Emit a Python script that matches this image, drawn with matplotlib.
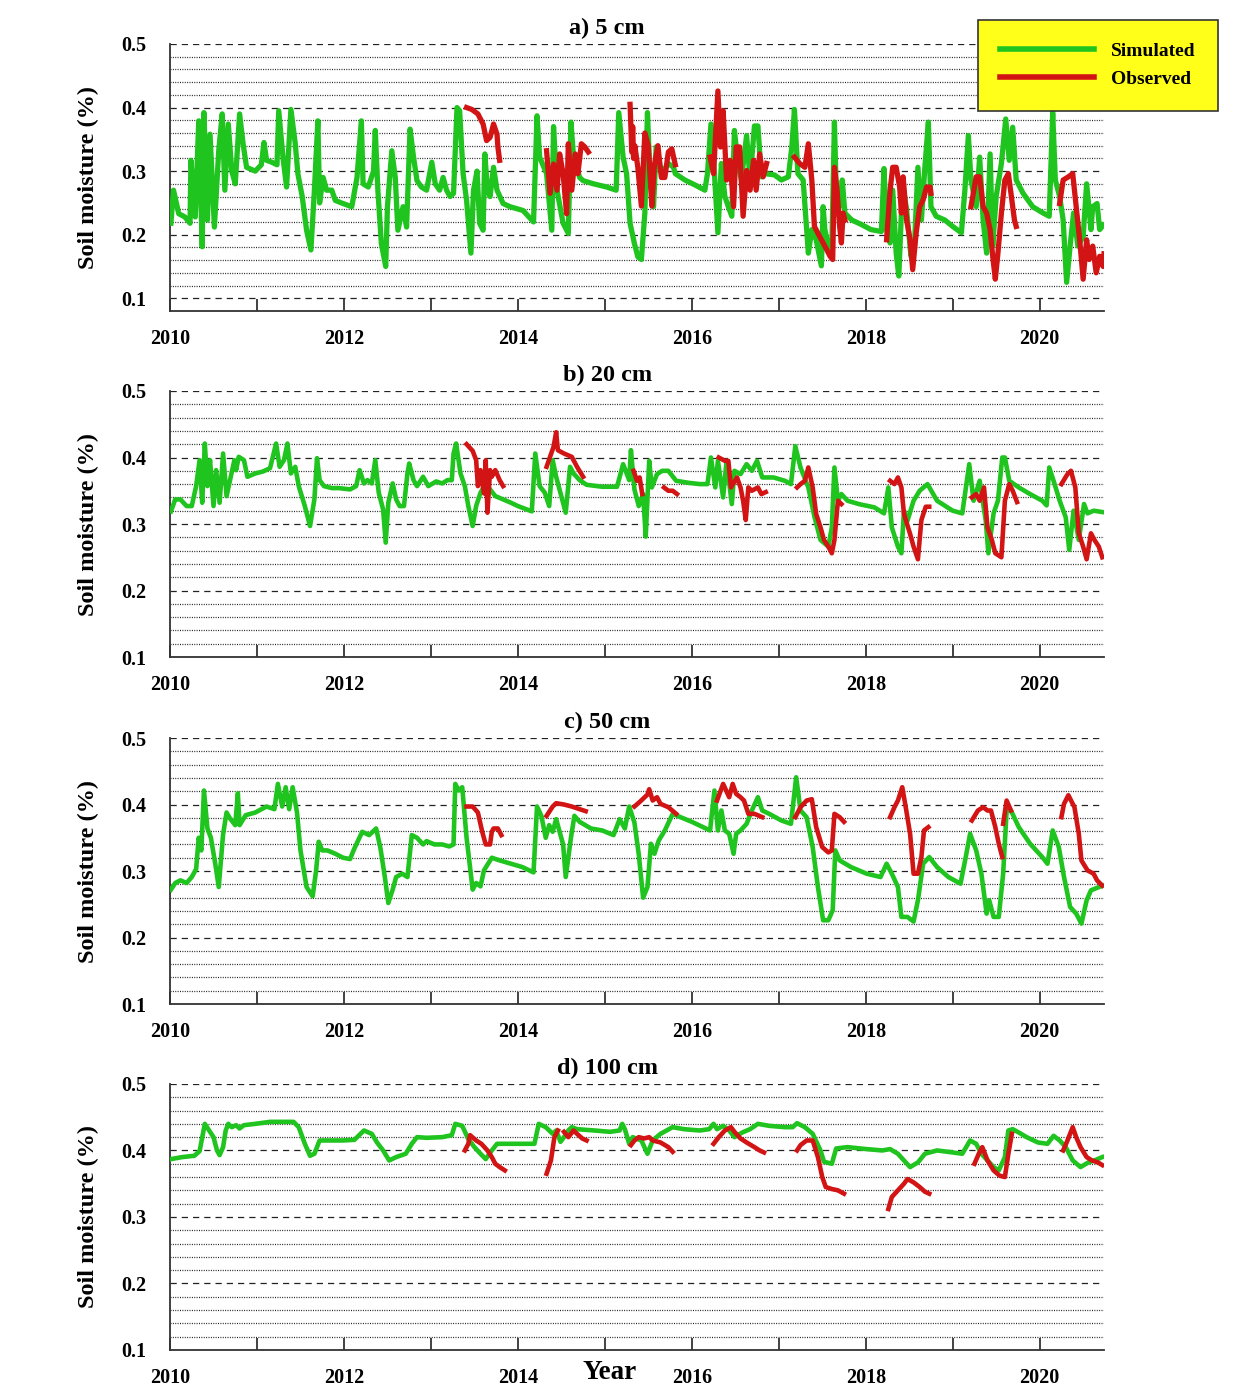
import numpy as np
import matplotlib
matplotlib.use("Agg")
import matplotlib.pyplot as plt
from matplotlib.lines import Line2D
from matplotlib.ticker import FixedLocator

nan = np.nan

# ---- 5 cm ----
sim_a_t = [2010.01, 2010.04, 2010.10, 2010.17, 2010.23, 2010.24, 2010.29, 2010.33, 2010.37, 2010.39,
           2010.43, 2010.46, 2010.51, 2010.56, 2010.60, 2010.63, 2010.67, 2010.71, 2010.75, 2010.80,
           2010.84, 2010.88, 2010.98, 2011.05, 2011.08, 2011.11, 2011.17, 2011.23, 2011.25, 2011.30,
           2011.34, 2011.39, 2011.44, 2011.47, 2011.52, 2011.57, 2011.62, 2011.66, 2011.70, 2011.72,
           2011.76, 2011.80, 2011.86, 2011.90, 2011.97, 2012.09, 2012.15, 2012.20, 2012.22, 2012.28,
           2012.34, 2012.36, 2012.39, 2012.43, 2012.48, 2012.50, 2012.55, 2012.59, 2012.62, 2012.68,
           2012.72, 2012.76, 2012.80, 2012.84, 2012.89, 2012.95, 2013.01, 2013.05, 2013.10, 2013.14,
           2013.18, 2013.22, 2013.26, 2013.30, 2013.33, 2013.37, 2013.41, 2013.46, 2013.49, 2013.53,
           2013.56, 2013.60, 2013.62, 2013.65, 2013.68, 2013.72, 2013.76, 2013.83, 2013.91, 2014.06,
           2014.18, 2014.22, 2014.25, 2014.33, 2014.39, 2014.41, 2014.45, 2014.52, 2014.58, 2014.61,
           2014.64, 2014.71, 2014.75, 2014.87, 2015.02, 2015.13, 2015.16, 2015.21, 2015.25, 2015.29,
           2015.34, 2015.38, 2015.42, 2015.46, 2015.49, 2015.52, 2015.56, 2015.59, 2015.65, 2015.73,
           2015.79, 2015.81, 2015.92, 2016.04, 2016.15, 2016.18, 2016.22, 2016.26, 2016.30, 2016.34,
           2016.38, 2016.42, 2016.46, 2016.49, 2016.53, 2016.57, 2016.63, 2016.67, 2016.72, 2016.76,
           2016.80, 2016.84, 2016.95, 2017.03, 2017.11, 2017.15, 2017.18, 2017.22, 2017.28, 2017.34,
           2017.38, 2017.43, 2017.49, 2017.51, 2017.53, 2017.57, 2017.61, 2017.64, 2017.66, 2017.70,
           2017.73, 2017.76, 2017.84, 2017.95, 2018.06, 2018.18, 2018.21, 2018.24, 2018.28, 2018.31,
           2018.35, 2018.38, 2018.41, 2018.43, 2018.47, 2018.52, 2018.56, 2018.60, 2018.64, 2018.68,
           2018.72, 2018.75, 2018.81, 2018.91, 2019.00, 2019.10, 2019.14, 2019.18, 2019.21, 2019.27,
           2019.31, 2019.35, 2019.39, 2019.43, 2019.46, 2019.50, 2019.56, 2019.61, 2019.65, 2019.69,
           2019.73, 2019.81, 2019.92, 2020.04, 2020.11, 2020.15, 2020.18, 2020.23, 2020.27, 2020.31,
           2020.35, 2020.39, 2020.44, 2020.50, 2020.54, 2020.59, 2020.61, 2020.66, 2020.69, 2020.73]
sim_a_v = [0.218, 0.270, 0.233, 0.228, 0.218, 0.317, 0.228, 0.379, 0.181, 0.392,
           0.223, 0.358, 0.212, 0.332, 0.390, 0.270, 0.374, 0.300, 0.280, 0.390,
           0.343, 0.306, 0.300, 0.310, 0.345, 0.317, 0.314, 0.310, 0.395, 0.320,
           0.275, 0.397, 0.343, 0.296, 0.260, 0.207, 0.176, 0.270, 0.379, 0.250,
           0.290, 0.270, 0.270, 0.254, 0.250, 0.244, 0.290, 0.379, 0.280, 0.275,
           0.300, 0.364, 0.270, 0.186, 0.150, 0.244, 0.332, 0.290, 0.207, 0.244,
           0.212, 0.366, 0.322, 0.285, 0.275, 0.270, 0.314, 0.280, 0.270, 0.290,
           0.270, 0.260, 0.265, 0.400, 0.395, 0.296, 0.254, 0.171, 0.270, 0.300,
           0.218, 0.207, 0.327, 0.270, 0.260, 0.306, 0.270, 0.249, 0.244, 0.238,
           0.220, 0.387, 0.322, 0.296, 0.207, 0.370, 0.270, 0.218, 0.202, 0.377,
           0.322, 0.290, 0.285, 0.280, 0.275, 0.270, 0.392, 0.322, 0.296, 0.218,
           0.186, 0.165, 0.161, 0.234, 0.392, 0.286, 0.244, 0.338, 0.296, 0.312,
           0.306, 0.296, 0.286, 0.278, 0.270, 0.296, 0.374, 0.296, 0.203, 0.312,
           0.260, 0.244, 0.229, 0.364, 0.312, 0.286, 0.356, 0.286, 0.371, 0.371,
           0.291, 0.296, 0.294, 0.286, 0.291, 0.338, 0.397, 0.296, 0.286, 0.171,
           0.208, 0.192, 0.151, 0.244, 0.208, 0.182, 0.177, 0.377, 0.270, 0.244,
           0.286, 0.234, 0.223, 0.216, 0.208, 0.205, 0.304, 0.208, 0.187, 0.270,
           0.171, 0.135, 0.234, 0.275, 0.239, 0.166, 0.182, 0.306, 0.223, 0.306,
           0.377, 0.244, 0.229, 0.223, 0.213, 0.203, 0.270, 0.356, 0.286, 0.244,
           0.322, 0.223, 0.171, 0.327, 0.182, 0.260, 0.312, 0.382, 0.317, 0.369,
           0.286, 0.265, 0.244, 0.234, 0.229, 0.392, 0.286, 0.260, 0.223, 0.125,
           0.182, 0.234, 0.182, 0.197, 0.280, 0.208, 0.244, 0.249, 0.208, 0.215]

obs_a_t = [2013.41, 2013.47, 2013.54, 2013.60, 2013.64, 2013.68, 2013.72, 2013.76, 2013.77, 2013.79, nan,
           2014.33, 2014.37, 2014.41, 2014.45, 2014.48, 2014.52, 2014.56, 2014.58, 2014.62, 2014.66,
           2014.69, 2014.73, 2014.77, 2014.81, nan,
           2015.29, 2015.31, 2015.32, 2015.33, 2015.345, 2015.38, 2015.42, 2015.46, 2015.50, 2015.54,
           2015.57, 2015.61, 2015.65, 2015.69, 2015.73, 2015.77, 2015.81, nan,
           2016.21, 2016.25, 2016.30, 2016.33, 2016.36, 2016.40, 2016.44, 2016.48, 2016.51, 2016.55,
           2016.59, 2016.63, 2016.67, 2016.71, 2016.74, 2016.78, 2016.82, 2016.86, nan,
           2017.18, 2017.24, 2017.30, 2017.34, 2017.38, 2017.41, 2017.47, 2017.53, 2017.59, 2017.62,
           2017.64, 2017.67, 2017.70, 2017.72, 2017.74, 2017.76, nan,
           2018.24, 2018.28, 2018.31, 2018.35, 2018.39, 2018.41, 2018.43, 2018.47, 2018.51, 2018.54,
           2018.58, 2018.62, 2018.66, 2018.70, 2018.74, 2018.75, nan,
           2019.21, 2019.27, 2019.31, 2019.35, 2019.39, 2019.43, 2019.46, 2019.49, 2019.52, 2019.56,
           2019.60, 2019.64, 2019.67, 2019.71, 2019.73, nan,
           2020.23, 2020.27, 2020.33, 2020.38, 2020.42, 2020.46, 2020.50, 2020.54, 2020.57, 2020.61,
           2020.65, 2020.69, 2020.73, 2020.74]
obs_a_v = [0.400, 0.397, 0.390, 0.374, 0.348, 0.353, 0.374, 0.358, 0.338, 0.317, nan,
           0.332, 0.265, 0.311, 0.270, 0.327, 0.296, 0.233, 0.343, 0.270, 0.327,
           0.296, 0.343, 0.338, 0.330, nan,
           0.405, 0.330, 0.370, 0.320, 0.340, 0.305, 0.245, 0.360, 0.340, 0.245,
           0.310, 0.340, 0.290, 0.290, 0.330, 0.335, 0.310, nan,
           0.322, 0.296, 0.426, 0.338, 0.395, 0.286, 0.317, 0.244, 0.338, 0.338,
           0.229, 0.301, 0.270, 0.317, 0.270, 0.327, 0.291, 0.312, nan,
           0.322, 0.312, 0.306, 0.343, 0.286, 0.213, 0.197, 0.182, 0.166, 0.161,
           0.306, 0.270, 0.213, 0.187, 0.234, 0.223, nan,
           0.192, 0.270, 0.306, 0.306, 0.275, 0.234, 0.291, 0.223, 0.192, 0.145,
           0.203, 0.244, 0.255, 0.275, 0.275, 0.265, nan,
           0.244, 0.291, 0.291, 0.244, 0.234, 0.208, 0.166, 0.130, 0.171, 0.234,
           0.286, 0.296, 0.265, 0.223, 0.213, nan,
           0.249, 0.286, 0.291, 0.296, 0.244, 0.192, 0.130, 0.192, 0.161, 0.182,
           0.140, 0.166, 0.150, 0.170]

# ---- 20 cm ----
sim_b_t = [2010.01, 2010.06, 2010.12, 2010.19, 2010.25, 2010.30, 2010.34, 2010.37, 2010.40, 2010.43,
           2010.46, 2010.50, 2010.53, 2010.57, 2010.61, 2010.65, 2010.69, 2010.74, 2010.76, 2010.79,
           2010.85, 2010.89, 2010.98, 2011.07, 2011.15, 2011.22, 2011.26, 2011.31, 2011.35, 2011.39,
           2011.44, 2011.48, 2011.55, 2011.61, 2011.66, 2011.69, 2011.72, 2011.77, 2011.86, 2011.94,
           2012.07, 2012.14, 2012.18, 2012.23, 2012.27, 2012.32, 2012.36, 2012.40, 2012.45, 2012.48,
           2012.51, 2012.56, 2012.60, 2012.64, 2012.69, 2012.73, 2012.75, 2012.80, 2012.84, 2012.91,
           2012.97, 2013.06, 2013.13, 2013.19, 2013.24, 2013.26, 2013.29, 2013.34, 2013.39, 2013.43,
           2013.48, 2013.52, 2013.57, 2013.63, 2013.68, 2013.74, 2013.83, 2013.92, 2014.00, 2014.16,
           2014.20, 2014.25, 2014.31, 2014.36, 2014.40, 2014.44, 2014.51, 2014.55, 2014.60, 2014.64,
           2014.71, 2014.79, 2014.97, 2015.14, 2015.21, 2015.28, 2015.30, 2015.34, 2015.39, 2015.44,
           2015.47, 2015.51, 2015.54, 2015.60, 2015.66, 2015.73, 2015.82, 2015.96, 2016.09, 2016.18,
           2016.22, 2016.27, 2016.30, 2016.36, 2016.40, 2016.46, 2016.49, 2016.56, 2016.63, 2016.69,
           2016.75, 2016.81, 2016.94, 2017.07, 2017.14, 2017.19, 2017.25, 2017.34, 2017.41, 2017.48,
           2017.57, 2017.61, 2017.64, 2017.68, 2017.72, 2017.79, 2017.92, 2018.10, 2018.21, 2018.26,
           2018.30, 2018.37, 2018.41, 2018.44, 2018.48, 2018.55, 2018.62, 2018.71, 2018.82, 2019.00,
           2019.11, 2019.19, 2019.24, 2019.31, 2019.38, 2019.41, 2019.47, 2019.52, 2019.57, 2019.60,
           2019.65, 2019.76, 2019.89, 2020.03, 2020.08, 2020.11, 2020.16, 2020.23, 2020.30, 2020.34,
           2020.39, 2020.45, 2020.51, 2020.55, 2020.62, 2020.72]
sim_b_v = [0.319, 0.337, 0.337, 0.327, 0.327, 0.357, 0.396, 0.332, 0.421, 0.357,
           0.396, 0.327, 0.381, 0.332, 0.406, 0.342, 0.366, 0.396, 0.381, 0.401,
           0.396, 0.371, 0.376, 0.379, 0.384, 0.421, 0.386, 0.396, 0.421, 0.376,
           0.386, 0.357, 0.327, 0.297, 0.337, 0.399, 0.366, 0.357, 0.354, 0.354,
           0.352, 0.357, 0.381, 0.361, 0.366, 0.361, 0.396, 0.347, 0.322, 0.272,
           0.332, 0.361, 0.337, 0.327, 0.327, 0.376, 0.391, 0.366, 0.357, 0.371,
           0.357, 0.364, 0.361, 0.366, 0.366, 0.406, 0.421, 0.376, 0.357, 0.327,
           0.297, 0.327, 0.347, 0.361, 0.352, 0.342, 0.337, 0.332, 0.327, 0.319,
           0.406, 0.357, 0.347, 0.327, 0.396, 0.371, 0.337, 0.317, 0.386, 0.376,
           0.366, 0.359, 0.356, 0.356, 0.390, 0.366, 0.411, 0.352, 0.327, 0.345,
           0.281, 0.395, 0.355, 0.375, 0.380, 0.380, 0.365, 0.362, 0.360, 0.360,
           0.400, 0.355, 0.395, 0.340, 0.395, 0.330, 0.380, 0.375, 0.390, 0.380,
           0.395, 0.370, 0.370, 0.365, 0.360, 0.417, 0.385, 0.355, 0.311, 0.276,
           0.266, 0.295, 0.385, 0.335, 0.345, 0.335, 0.330, 0.325, 0.316, 0.355,
           0.295, 0.266, 0.256, 0.320, 0.305, 0.335, 0.350, 0.360, 0.335, 0.320,
           0.316, 0.390, 0.335, 0.365, 0.305, 0.256, 0.316, 0.335, 0.400, 0.400,
           0.365, 0.355, 0.345, 0.335, 0.328, 0.385, 0.365, 0.335, 0.310, 0.261,
           0.320, 0.276, 0.330, 0.316, 0.320, 0.318]

obs_b_t = [2013.41, 2013.48, 2013.52, 2013.54, 2013.57, 2013.61, 2013.63, 2013.65, 2013.68, 2013.70,
           2013.74, 2013.79, 2013.83, nan,
           2014.33, 2014.37, 2014.41, 2014.44, 2014.46, 2014.53, 2014.62, 2014.68, 2014.75, nan,
           2015.33, 2015.37, 2015.40, 2015.43, nan,
           2015.68, 2015.73, 2015.78, 2015.83, nan,
           2016.31, 2016.38, 2016.42, 2016.45, 2016.52, 2016.56, 2016.59, 2016.62, 2016.65, 2016.69,
           2016.76, 2016.80, 2016.85, nan,
           2017.21, 2017.25, 2017.30, 2017.34, 2017.39, 2017.43, 2017.48, 2017.52, 2017.57, 2017.61,
           2017.64, 2017.68, 2017.72, nan,
           2018.28, 2018.33, 2018.37, 2018.41, 2018.44, 2018.51, 2018.55, 2018.60, 2018.64, 2018.69,
           2018.73, nan,
           2019.22, 2019.27, 2019.31, 2019.36, 2019.40, 2019.45, 2019.49, 2019.56, 2019.60, 2019.65,
           2019.69, 2019.74, nan,
           2020.25, 2020.32, 2020.36, 2020.41, 2020.45, 2020.50, 2020.54, 2020.59, 2020.63, 2020.68,
           2020.72]
obs_b_v = [0.420, 0.410, 0.396, 0.357, 0.381, 0.346, 0.396, 0.317, 0.381, 0.371,
           0.381, 0.366, 0.357, nan,
           0.386, 0.401, 0.416, 0.438, 0.411, 0.406, 0.401, 0.386, 0.371, nan,
           0.380, 0.365, 0.370, 0.345, nan,
           0.355, 0.350, 0.350, 0.345, nan,
           0.400, 0.395, 0.395, 0.355, 0.370, 0.355, 0.335, 0.306, 0.355, 0.350,
           0.355, 0.345, 0.348, nan,
           0.355, 0.360, 0.365, 0.385, 0.355, 0.315, 0.295, 0.276, 0.266, 0.256,
           0.276, 0.335, 0.330, nan,
           0.365, 0.360, 0.370, 0.355, 0.315, 0.285, 0.266, 0.247, 0.306, 0.326,
           0.326, nan,
           0.340, 0.345, 0.335, 0.355, 0.295, 0.276, 0.256, 0.250, 0.335, 0.360,
           0.350, 0.333, nan,
           0.360, 0.375, 0.380, 0.355, 0.286, 0.266, 0.247, 0.286, 0.276, 0.266,
           0.250]

# ---- 50 cm ----
sim_c_t = [2010.01, 2010.06, 2010.12, 2010.19, 2010.25, 2010.30, 2010.33, 2010.36, 2010.39, 2010.43,
           2010.47, 2010.52, 2010.56, 2010.61, 2010.65, 2010.69, 2010.75, 2010.78, 2010.80, 2010.87,
           2010.98, 2011.11, 2011.20, 2011.24, 2011.29, 2011.33, 2011.37, 2011.41, 2011.46, 2011.50,
           2011.57, 2011.64, 2011.68, 2011.71, 2011.75, 2011.81, 2011.90, 2011.99, 2012.07, 2012.12,
           2012.21, 2012.29, 2012.37, 2012.42, 2012.47, 2012.51, 2012.56, 2012.60, 2012.67, 2012.73,
           2012.78, 2012.84, 2012.91, 2012.95, 2013.04, 2013.13, 2013.21, 2013.26, 2013.28, 2013.32,
           2013.36, 2013.41, 2013.48, 2013.52, 2013.57, 2013.61, 2013.70, 2013.79, 2013.92, 2014.05,
           2014.18, 2014.22, 2014.27, 2014.32, 2014.36, 2014.40, 2014.44, 2014.49, 2014.52, 2014.55,
           2014.61, 2014.65, 2014.71, 2014.84, 2014.97, 2015.10, 2015.17, 2015.23, 2015.28, 2015.34,
           2015.39, 2015.44, 2015.49, 2015.53, 2015.57, 2015.62, 2015.69, 2015.78, 2015.87, 2016.00,
           2016.13, 2016.21, 2016.26, 2016.30, 2016.34, 2016.38, 2016.43, 2016.48, 2016.51, 2016.56,
           2016.63, 2016.69, 2016.76, 2016.81, 2016.89, 2017.03, 2017.14, 2017.20, 2017.25, 2017.32,
           2017.39, 2017.45, 2017.51, 2017.57, 2017.62, 2017.65, 2017.70, 2017.83, 2018.01, 2018.17,
           2018.24, 2018.30, 2018.37, 2018.41, 2018.48, 2018.55, 2018.60, 2018.66, 2018.73, 2018.82,
           2018.95, 2019.09, 2019.15, 2019.20, 2019.27, 2019.33, 2019.39, 2019.42, 2019.47, 2019.53,
           2019.58, 2019.62, 2019.67, 2019.76, 2019.89, 2020.03, 2020.09, 2020.15, 2020.22, 2020.28,
           2020.35, 2020.42, 2020.48, 2020.54, 2020.59, 2020.72]
sim_c_v = [0.272, 0.282, 0.286, 0.282, 0.291, 0.303, 0.350, 0.331, 0.421, 0.364,
           0.350, 0.311, 0.276, 0.355, 0.388, 0.379, 0.369, 0.417, 0.369, 0.384,
           0.388, 0.397, 0.393, 0.431, 0.397, 0.426, 0.393, 0.426, 0.388, 0.331,
           0.276, 0.262, 0.301, 0.344, 0.331, 0.331, 0.326, 0.320, 0.318, 0.334,
           0.359, 0.354, 0.364, 0.334, 0.291, 0.252, 0.272, 0.291, 0.296, 0.291,
           0.354, 0.350, 0.340, 0.345, 0.340, 0.340, 0.337, 0.340, 0.431, 0.421,
           0.426, 0.350, 0.272, 0.282, 0.277, 0.301, 0.320, 0.316, 0.311, 0.306,
           0.298, 0.397, 0.383, 0.350, 0.369, 0.359, 0.378, 0.354, 0.340, 0.291,
           0.350, 0.383, 0.374, 0.364, 0.361, 0.354, 0.378, 0.364, 0.397, 0.373,
           0.325, 0.260, 0.276, 0.341, 0.326, 0.346, 0.361, 0.386, 0.381, 0.374,
           0.366, 0.361, 0.421, 0.361, 0.391, 0.361, 0.356, 0.326, 0.356, 0.361,
           0.371, 0.391, 0.411, 0.391, 0.386, 0.376, 0.371, 0.441, 0.391, 0.381,
           0.336, 0.276, 0.226, 0.226, 0.241, 0.331, 0.316, 0.306, 0.296, 0.291,
           0.311, 0.296, 0.276, 0.231, 0.231, 0.224, 0.256, 0.311, 0.321, 0.306,
           0.291, 0.281, 0.321, 0.356, 0.331, 0.296, 0.236, 0.256, 0.231, 0.231,
           0.296, 0.391, 0.391, 0.366, 0.341, 0.321, 0.311, 0.361, 0.336, 0.291,
           0.246, 0.236, 0.221, 0.256, 0.271, 0.278]

obs_c_t = [2013.41, 2013.48, 2013.54, 2013.59, 2013.63, 2013.68, 2013.70, 2013.72, 2013.77, 2013.81, nan,
           2014.33, 2014.40, 2014.44, 2014.53, 2014.62, 2014.71, 2014.78, nan,
           2015.34, 2015.41, 2015.45, 2015.49, 2015.51, 2015.55, 2015.60, 2015.64, 2015.73, 2015.82, nan,
           2016.29, 2016.36, 2016.43, 2016.47, 2016.51, 2016.56, 2016.60, 2016.65, 2016.72, 2016.81, nan,
           2017.19, 2017.25, 2017.32, 2017.38, 2017.43, 2017.50, 2017.57, 2017.61, 2017.64, 2017.70,
           2017.75, nan,
           2018.28, 2018.33, 2018.37, 2018.42, 2018.46, 2018.51, 2018.55, 2018.60, 2018.64, 2018.67,
           2018.72, nan,
           2019.22, 2019.29, 2019.35, 2019.40, 2019.44, 2019.49, 2019.53, 2019.57, nan,
           2019.58, 2019.62, 2019.67, nan,
           2020.25, 2020.28, 2020.33, 2020.40, 2020.45, 2020.48, 2020.55, 2020.62, 2020.66, 2020.72]
obs_c_v = [0.397, 0.397, 0.388, 0.359, 0.340, 0.340, 0.359, 0.364, 0.364, 0.354, nan,
           0.383, 0.397, 0.402, 0.400, 0.397, 0.393, 0.390, nan,
           0.397, 0.405, 0.410, 0.415, 0.423, 0.406, 0.411, 0.401, 0.396, 0.386, nan,
           0.406, 0.431, 0.411, 0.431, 0.416, 0.411, 0.406, 0.386, 0.386, 0.381, nan,
           0.381, 0.396, 0.406, 0.408, 0.366, 0.336, 0.328, 0.331, 0.386, 0.381,
           0.374, nan,
           0.381, 0.396, 0.406, 0.426, 0.396, 0.356, 0.296, 0.296, 0.321, 0.361,
           0.366, nan,
           0.376, 0.391, 0.396, 0.391, 0.391, 0.366, 0.341, 0.321, nan,
           0.371, 0.406, 0.391, nan,
           0.381, 0.401, 0.414, 0.396, 0.356, 0.316, 0.301, 0.296, 0.286, 0.278]

# ---- 100 cm ----
sim_d_t = [2010.01, 2010.14, 2010.28, 2010.34, 2010.40, 2010.45, 2010.50, 2010.54, 2010.57, 2010.61,
           2010.64, 2010.67, 2010.71, 2010.76, 2010.80, 2010.85, 2010.98, 2011.15, 2011.42, 2011.48,
           2011.55, 2011.61, 2011.66, 2011.72, 2011.81, 2011.99, 2012.12, 2012.23, 2012.32, 2012.38,
           2012.45, 2012.52, 2012.60, 2012.71, 2012.78, 2012.84, 2012.95, 2013.13, 2013.24, 2013.28,
           2013.36, 2013.43, 2013.50, 2013.57, 2013.63, 2013.70, 2013.76, 2013.87, 2014.09, 2014.19,
           2014.24, 2014.32, 2014.40, 2014.44, 2014.49, 2014.53, 2014.58, 2014.62, 2014.68, 2014.88,
           2015.06, 2015.17, 2015.20, 2015.23, 2015.28, 2015.32, 2015.42, 2015.49, 2015.55, 2015.64,
           2015.78, 2015.91, 2016.09, 2016.20, 2016.25, 2016.29, 2016.36, 2016.43, 2016.49, 2016.58,
           2016.67, 2016.76, 2016.89, 2017.07, 2017.16, 2017.21, 2017.30, 2017.39, 2017.48, 2017.52,
           2017.61, 2017.66, 2017.79, 2018.01, 2018.19, 2018.28, 2018.37, 2018.46, 2018.51, 2018.60,
           2018.68, 2018.82, 2019.00, 2019.11, 2019.20, 2019.27, 2019.33, 2019.40, 2019.47, 2019.53,
           2019.60, 2019.64, 2019.69, 2019.76, 2019.85, 2019.98, 2020.09, 2020.16, 2020.23, 2020.30,
           2020.38, 2020.47, 2020.56, 2020.63, 2020.72]
sim_d_v = [0.387, 0.390, 0.392, 0.399, 0.440, 0.430, 0.420, 0.400, 0.393, 0.405,
           0.430, 0.440, 0.435, 0.438, 0.433, 0.438, 0.440, 0.443, 0.443, 0.435,
           0.410, 0.392, 0.395, 0.415, 0.415, 0.415, 0.416, 0.430, 0.425, 0.412,
           0.400, 0.385, 0.390, 0.395, 0.410, 0.420, 0.419, 0.420, 0.423, 0.440,
           0.437, 0.417, 0.405, 0.395, 0.387, 0.400, 0.410, 0.410, 0.410, 0.410,
           0.440, 0.435, 0.425, 0.430, 0.413, 0.420, 0.430, 0.435, 0.432, 0.430,
           0.428, 0.430, 0.440, 0.432, 0.410, 0.420, 0.415, 0.395, 0.415, 0.425,
           0.435, 0.432, 0.430, 0.432, 0.440, 0.432, 0.437, 0.430, 0.420, 0.427,
           0.432, 0.440, 0.437, 0.435, 0.435, 0.441, 0.435, 0.425, 0.400, 0.383,
           0.380, 0.403, 0.405, 0.402, 0.400, 0.402, 0.395, 0.382, 0.375, 0.382,
           0.395, 0.400, 0.397, 0.395, 0.415, 0.410, 0.395, 0.385, 0.375, 0.370,
           0.390, 0.430, 0.432, 0.427, 0.420, 0.412, 0.410, 0.422, 0.415, 0.405,
           0.385, 0.375, 0.382, 0.385, 0.390]

obs_d_t = [2013.39, 2013.43, 2013.45, 2013.52, 2013.58, 2013.65, 2013.70, 2013.74, 2013.79, 2013.85, nan,
           2014.33, 2014.38, 2014.42, 2014.46, nan,
           2014.53, 2014.58, 2014.64, 2014.68, 2014.74, 2014.79, nan,
           2015.30, 2015.34, 2015.39, 2015.45, 2015.51, 2015.55, 2015.64, 2015.73, 2015.78, nan,
           2016.25, 2016.31, 2016.38, 2016.45, 2016.49, 2016.56, 2016.63, 2016.72, 2016.78, 2016.83, nan,
           2017.21, 2017.25, 2017.32, 2017.39, 2017.45, 2017.50, 2017.54, 2017.61, 2017.68, 2017.75, nan,
           2018.26, 2018.30, 2018.37, 2018.44, 2018.48, 2018.55, 2018.62, 2018.68, 2018.73, nan,
           2019.25, 2019.30, 2019.34, 2019.40, 2019.47, 2019.54, 2019.60, 2019.64, 2019.68, nan,
           2020.27, 2020.32, 2020.38, 2020.42, 2020.47, 2020.54, 2020.60, 2020.67, 2020.72]
obs_d_v = [0.400, 0.410, 0.423, 0.415, 0.410, 0.400, 0.390, 0.380, 0.375, 0.370, nan,
           0.365, 0.385, 0.420, 0.430, nan,
           0.428, 0.420, 0.430, 0.425, 0.418, 0.415, nan,
           0.408, 0.415, 0.420, 0.418, 0.420, 0.415, 0.412, 0.405, 0.398, nan,
           0.410, 0.420, 0.430, 0.435, 0.428, 0.418, 0.412, 0.405, 0.400, 0.397, nan,
           0.400, 0.408, 0.415, 0.415, 0.390, 0.360, 0.345, 0.342, 0.340, 0.335, nan,
           0.312, 0.330, 0.340, 0.350, 0.357, 0.352, 0.345, 0.338, 0.335, nan,
           0.380, 0.395, 0.405, 0.385, 0.370, 0.362, 0.360, 0.395, 0.425, nan,
           0.400, 0.415, 0.435, 0.420, 0.405, 0.390, 0.385, 0.382, 0.378]

titles = ["a) 5 cm", "b) 20 cm", "c) 50 cm", "d) 100 cm"]
series = [(sim_a_t, sim_a_v, obs_a_t, obs_a_v),
          (sim_b_t, sim_b_v, obs_b_t, obs_b_v),
          (sim_c_t, sim_c_v, obs_c_t, obs_c_v),
          (sim_d_t, sim_d_v, obs_d_t, obs_d_v)]
year_ticks = list(range(2010, 2021))

GREEN = "#1fc41f"
RED = "#d21414"

plt.rcParams["font.family"] = "Liberation Serif"
plt.rcParams["font.weight"] = "bold"

fig = plt.figure(figsize=(12.53, 13.87), dpi=100)

# axes rectangles [left, bottom, width, height] in figure fractions
rects = [[0.1357, 0.7758, 0.7454, 0.1925],
         [0.1357, 0.5263, 0.7454, 0.1918],
         [0.1357, 0.2761, 0.7454, 0.1918],
         [0.1357, 0.0267, 0.7454, 0.1918]]

axes = []
for i, (rect, title, (st, sv, ot, ov)) in enumerate(zip(rects, titles, series)):
    ax = fig.add_axes(rect)
    axes.append(ax)
    lw = 3.8 if i == 0 else 3.3
    ax.plot(st, sv, color=GREEN, lw=lw, solid_joinstyle="round", zorder=3)
    ax.plot(ot, ov, color=RED, lw=lw, solid_joinstyle="round", zorder=4)

    ax.set_xlim(2010, 2020.74)
    ax.set_ylim(0.08 if i == 0 else 0.1, 0.5)

    # horizontal reference lines: dashed every 0.1, dotted every 0.02
    for y in np.arange(0.1, 0.51, 0.1):
        ax.axhline(y, color="#222222", lw=0.9, ls=(0, (5, 4)), zorder=1)
    for y in np.arange(0.12, 0.5, 0.02):
        if abs(y * 10 - round(y * 10)) > 1e-6:
            ax.axhline(y, color="#222222", lw=0.9, ls=(0, (0.8, 1.1)), zorder=1)

    ax.spines["top"].set_visible(False)
    ax.spines["right"].set_visible(False)
    for s in ("left", "bottom"):
        ax.spines[s].set_linewidth(1.3)
        ax.spines[s].set_color("#333333")

    ax.xaxis.set_major_locator(FixedLocator(year_ticks))
    ax.set_xticklabels([str(y) if y % 2 == 0 else "" for y in year_ticks])
    ax.tick_params(axis="x", direction="in", length=9, width=1.3, color="#333333",
                   pad=13, labelsize=14.5)
    ax.set_yticks([0.1, 0.2, 0.3, 0.4, 0.5])
    ax.set_yticklabels(["0.1", "0.2", "0.3", "0.4", "0.5"])
    ax.tick_params(axis="y", length=0, pad=17, labelsize=14.5)
    for lab in ax.get_xticklabels() + ax.get_yticklabels():
        lab.set_fontweight("bold")

    ax.set_ylabel("Soil moisture (%)", fontsize=17.5, fontweight="bold", labelpad=16)
    ax.text(0.468, 1.018, title, transform=ax.transAxes, ha="center", va="bottom",
            fontsize=17.5, fontweight="bold")

axes[3].text(0.471, -0.083, "Year", transform=axes[3].transAxes, ha="center",
             va="center", fontsize=19.5, fontweight="bold")

handles = [Line2D([], [], color=GREEN, lw=4), Line2D([], [], color=RED, lw=4)]
leg = fig.legend(handles, ["Simulated", "Observed"], loc="upper left",
                 bbox_to_anchor=(0.7805, 0.9856), frameon=True, fancybox=False,
                 fontsize=14, handlelength=4.8, borderpad=1.15, labelspacing=0.55,
                 handletextpad=0.9, borderaxespad=0)
leg.get_frame().set_facecolor("#ffff1a")
leg.get_frame().set_edgecolor("#333333")
leg.get_frame().set_linewidth(1.2)
leg.get_frame().set_alpha(1)
for t in leg.get_texts():
    t.set_fontweight("bold")

fig.savefig("out.png", dpi=100)
